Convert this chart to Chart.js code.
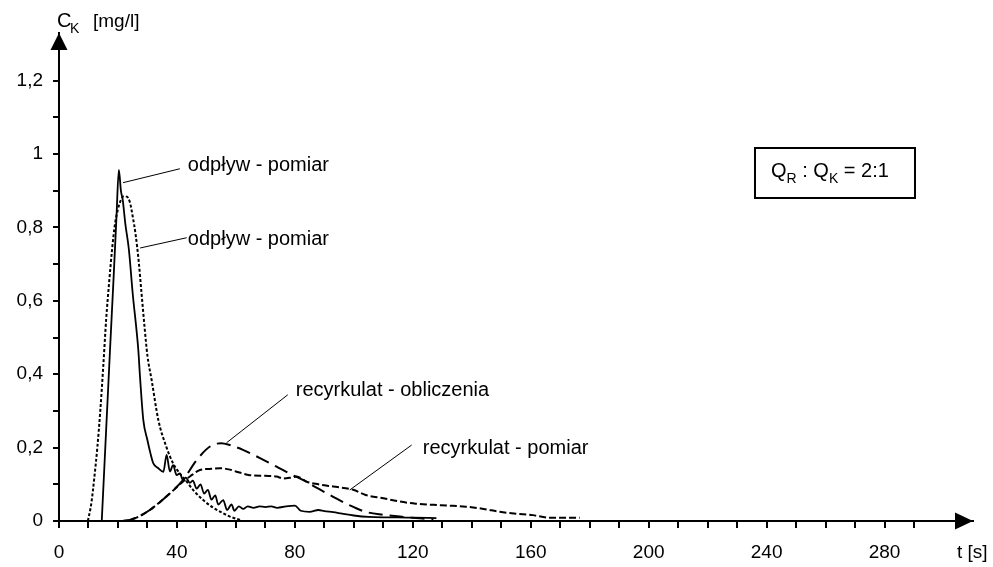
<!DOCTYPE html>
<html>
<head>
<meta charset="utf-8">
<script src="https://cdn.jsdelivr.net/npm/chart.js@4.4.0/dist/chart.umd.min.js"></script>
<style>
  html, body { margin: 0; padding: 0; background: #fff; }
  #wrap { width: 993px; height: 567px; }
</style>
</head>
<body>
<div id="wrap"><canvas id="myChart" width="993" height="567"></canvas></div>
<script>
// czas [s] i stezenie C_K [mg/l] dla kazdej krzywej
var odplywPomiarT = [14.5, 16, 17.3, 18.5, 19.5, 20.3, 21, 21.6, 22.5, 23.7, 25, 26.9, 27.5, 28.6, 30, 31, 32, 33.5, 35.4,
  36.5, 37.6, 38.7, 39.9, 41, 42, 43, 44.4, 45.4, 46.7, 48, 49.2, 50.5, 51.7, 53, 54, 55.7, 57, 58.5, 59.5, 61, 62.5,
  64, 66, 68, 70, 72, 74, 77, 80, 82, 85, 88, 90, 93, 96, 100, 105, 110, 115, 120, 128];
var odplywPomiarC = [0, 0.25, 0.466, 0.66, 0.83, 0.957, 0.9, 0.876, 0.81, 0.74, 0.62, 0.466, 0.39, 0.275, 0.22, 0.185, 0.157, 0.145, 0.134,
  0.18, 0.135, 0.152, 0.125, 0.13, 0.112, 0.118, 0.104, 0.11, 0.088, 0.1, 0.075, 0.085, 0.058, 0.07, 0.045, 0.057, 0.03, 0.045, 0.028, 0.04, 0.033,
  0.04, 0.036, 0.04, 0.038, 0.04, 0.036, 0.04, 0.042, 0.028, 0.025, 0.03, 0.027, 0.024, 0.02, 0.015, 0.011, 0.01, 0.01, 0.009, 0.008];

var odplywObliczT = [9.8, 11, 12, 13, 14, 15, 16, 17, 18, 19, 20, 21, 22, 23, 24, 25, 26, 27, 28, 29, 30,
  31.4, 33.7, 36.5, 38.7, 40, 43.3, 46, 48.9, 52, 55.7, 58, 61.4];
var odplywObliczC = [0, 0.05, 0.12, 0.2, 0.3, 0.42, 0.55, 0.65, 0.74, 0.81, 0.85, 0.875, 0.885, 0.884, 0.87, 0.83, 0.78, 0.71, 0.62, 0.53, 0.45,
  0.385, 0.275, 0.2, 0.157, 0.14, 0.107, 0.08, 0.057, 0.038, 0.021, 0.012, 0.003];

var recyrkObliczT = [21.3, 24, 27, 30.8, 34, 37.6, 42.1, 46.7, 51.2, 55, 58, 62.4, 68, 73.8, 78, 82.7, 88, 93, 98, 104, 110, 115.6, 121, 127];
var recyrkObliczC = [0, 0.003, 0.012, 0.03, 0.05, 0.075, 0.112, 0.166, 0.203, 0.212, 0.207, 0.194, 0.172, 0.148, 0.13, 0.112, 0.088, 0.066, 0.045, 0.025, 0.017, 0.012, 0.008, 0.005];

var recyrkPomiarT = [21.3, 24, 27, 30.8, 34, 37.6, 42, 44.5, 47.8, 51, 54.6, 58, 60, 64.7, 70, 73.8, 76, 78.5, 80.6, 84, 88, 93, 99.8,
  104, 110, 115.6, 121, 127, 132, 138, 144, 149.5, 155, 160.7, 166.4, 172, 176.6];
var recyrkPomiarC = [0, 0.003, 0.012, 0.03, 0.05, 0.075, 0.107, 0.122, 0.139, 0.142, 0.144, 0.14, 0.135, 0.125, 0.123, 0.121, 0.116, 0.118, 0.121, 0.107, 0.1, 0.094, 0.085,
  0.071, 0.062, 0.053, 0.047, 0.044, 0.042, 0.039, 0.033, 0.025, 0.02, 0.016, 0.009, 0.009, 0.009];

// opisy krzywych: tekst, miejsce tekstu [t, C], odcinek wskazujacy [t1, C1, t2, C2]
var opisy = [
  { text: 'odpływ - pomiar', at: [43.7, 0.9526], line: [21.7, 0.922, 41, 0.96] },
  { text: 'odpływ - pomiar', at: [43.7, 0.7526], line: [27.5, 0.744, 43.3, 0.772] },
  { text: 'recyrkulat - obliczenia', at: [80.3, 0.341], line: [56.8, 0.213, 77.6, 0.344] },
  { text: 'recyrkulat - pomiar', at: [123.4, 0.1827], line: [98.6, 0.0845, 119.6, 0.207] }
];

var FONT = '"Liberation Sans", Arial, sans-serif';

function pts(t, c) {
  return t.map(function (v, i) { return { x: v, y: c[i] }; });
}

function seria(label, t, c, dash, width) {
  return {
    label: label,
    data: pts(t, c),
    borderColor: '#000',
    borderWidth: width,
    borderDash: dash,
    pointRadius: 0,
    fill: false,
    cubicInterpolationMode: 'monotone'
  };
}

// strzalki na osiach, tytuly osi, ramka Q_R : Q_K i opisy krzywych
var opisyPlugin = {
  id: 'opisy',
  afterDraw: function (chart) {
    var ctx = chart.ctx;
    var xs = chart.scales.x, ys = chart.scales.y;
    var px = function (v) { return xs.getPixelForValue(v); };
    var py = function (v) { return ys.getPixelForValue(v); };
    ctx.save();
    ctx.fillStyle = '#000';
    ctx.strokeStyle = '#000';

    // strzalka osi C
    var x0 = px(0), y0 = py(0);
    ctx.beginPath();
    ctx.moveTo(x0, ys.top);
    ctx.lineTo(x0 - 8.5, ys.top + 17);
    ctx.lineTo(x0 + 8.5, ys.top + 17);
    ctx.closePath();
    ctx.fill();
    // strzalka osi t
    ctx.beginPath();
    ctx.moveTo(xs.right, y0);
    ctx.lineTo(xs.right - 18, y0 - 8.5);
    ctx.lineTo(xs.right - 18, y0 + 8.5);
    ctx.closePath();
    ctx.fill();

    // tytul osi pionowej
    ctx.textBaseline = 'alphabetic';
    ctx.textAlign = 'left';
    ctx.font = '20px ' + FONT;
    ctx.fillText('C', 57, 27);
    ctx.font = '14px ' + FONT;
    ctx.fillText('K', 70, 33);
    ctx.font = '19px ' + FONT;
    ctx.fillText('[mg/l]', 93, 27);
    // tytul osi poziomej
    ctx.fillText('t [s]', 957, 558);

    // ramka z proporcja przeplywow
    ctx.lineWidth = 2;
    ctx.strokeRect(755, 148, 160, 50);
    var x = 771, yb = 177;
    var czesci = [['Q', 20, 0], ['R', 14, 6], [' : Q', 20, 0], ['K', 14, 6], [' = 2:1', 20, 0]];
    czesci.forEach(function (c) {
      ctx.font = c[1] + 'px ' + FONT;
      ctx.fillText(c[0], x, yb + c[2]);
      x += ctx.measureText(c[0]).width;
    });

    // opisy krzywych z odcinkami
    ctx.lineWidth = 1;
    ctx.font = '20px ' + FONT;
    opisy.forEach(function (o) {
      ctx.beginPath();
      ctx.moveTo(px(o.line[0]), py(o.line[1]));
      ctx.lineTo(px(o.line[2]), py(o.line[3]));
      ctx.stroke();
      ctx.fillText(o.text, px(o.at[0]), py(o.at[1]));
    });
    ctx.restore();
  }
};

var ctx = document.getElementById('myChart').getContext('2d');

var chart = new Chart(ctx, {
  type: 'line',
  data: {
    datasets: [
      seria('odpływ - pomiar', odplywPomiarT, odplywPomiarC, [], 1.8),
      seria('odpływ - obliczenia', odplywObliczT, odplywObliczC, [3, 2], 2),
      seria('recyrkulat - obliczenia', recyrkObliczT, recyrkObliczC, [14, 7], 2),
      seria('recyrkulat - pomiar', recyrkPomiarT, recyrkPomiarC, [7, 3], 2)
    ]
  },
  options: {
    responsive: false,
    animation: false,
    layout: { padding: { top: 33, right: 20, left: 0, bottom: 0 } },
    plugins: {
      legend: { display: false },
      tooltip: { enabled: false }
    },
    scales: {
      x: {
        type: 'linear',
        min: 0,
        max: 310,
        afterFit: function (s) { s.height = 46; },
        afterBuildTicks: function (s) { s.ticks = s.ticks.filter(function (t) { return t.value <= 290; }); },
        border: { display: true, color: '#000', width: 2 },
        grid: { drawOnChartArea: false, drawTicks: true, tickLength: 7, color: '#000', lineWidth: 2 },
        ticks: {
          stepSize: 10,
          autoSkip: false,
          maxRotation: 0,
          padding: 13,
          color: '#000',
          font: { family: FONT, size: 19 },
          callback: function (v) { return v % 40 === 0 ? String(v) : ''; }
        }
      },
      y: {
        min: 0,
        max: 1.33,
        afterFit: function (s) { s.width = 59; },
        afterBuildTicks: function (s) { s.ticks = s.ticks.filter(function (t) { return t.value <= 1.2001; }); },
        border: { display: true, color: '#000', width: 2 },
        grid: { drawOnChartArea: false, drawTicks: true, tickLength: 6, color: '#000', lineWidth: 2 },
        ticks: {
          stepSize: 0.1,
          padding: 10,
          color: '#000',
          font: { family: FONT, size: 19 },
          callback: function (v) {
            var k = Math.round(v * 10);
            return k % 2 === 0 ? String(k / 10).replace('.', ',') : '';
          }
        }
      }
    }
  },
  plugins: [opisyPlugin]
});
</script>
</body>
</html>
